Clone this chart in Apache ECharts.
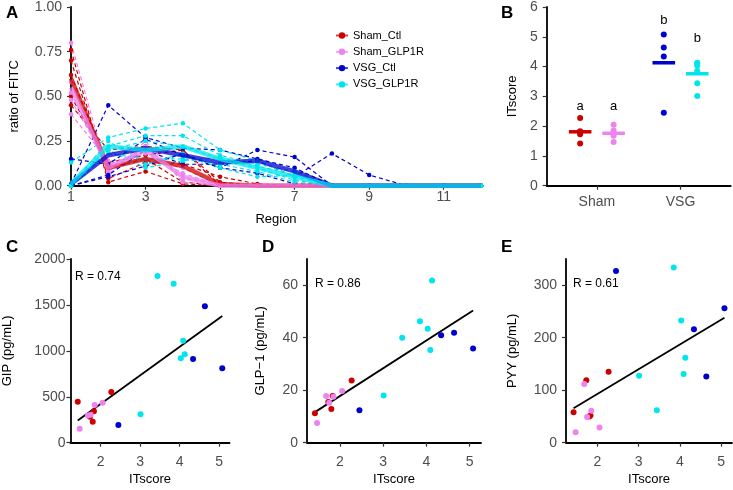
<!DOCTYPE html>
<html><head><meta charset="utf-8">
<script src="https://cdn.jsdelivr.net/npm/echarts@6/dist/echarts.min.js"></script>
<style>html,body{margin:0;padding:0;background:#fff}#c{width:733px;height:490px}</style>
</head><body><div id="c"></div>
<script>
// ---------- DATA ----------
const groups = ['Sham_Ctl', 'Sham_GLP1R', 'VSG_Ctl', 'VSG_GLP1R'];
const groupColors = ['#CD0000', '#EE82EE', '#0000CD', '#00E5EE'];

// Panel A: ratio of FITC per region (1..12), one row per animal
const regions = [1, 2, 3, 4, 5, 6, 7, 8, 9, 10, 11, 12];
const regionTicks = [1, 3, 5, 7, 9, 11];
const fitcShamCtl = [
  [0.76, 0.02, 0.08, 0.01, 0.00, 0, 0, 0, 0, 0, 0, 0],
  [0.70, 0.04, 0.13, 0.12, 0.05, 0.01, 0, 0, 0, 0, 0, 0],
  [0.62, 0.10, 0.15, 0.02, 0.00, 0, 0, 0, 0, 0, 0, 0],
  [0.50, 0.13, 0.17, 0.20, 0.02, 0, 0, 0, 0, 0, 0, 0],
  [0.45, 0.20, 0.22, 0.20, 0.00, 0, 0, 0, 0, 0, 0, 0]
];
const fitcShamGlp = [
  [0.80, 0.06, 0.25, 0.02, 0.00, 0, 0, 0, 0, 0, 0, 0],
  [0.58, 0.08, 0.22, 0.04, 0.01, 0, 0, 0, 0, 0, 0, 0],
  [0.52, 0.10, 0.20, 0.05, 0.00, 0, 0, 0, 0, 0, 0, 0],
  [0.48, 0.12, 0.18, 0.07, 0.00, 0, 0, 0, 0, 0, 0, 0],
  [0.40, 0.14, 0.15, 0.10, 0.00, 0, 0, 0, 0, 0, 0, 0]
];
const fitcVsgCtl = [
  [0.01, 0.45, 0.27, 0.21, 0.20, 0.15, 0.10, 0.00, 0.00, 0, 0, 0],
  [0.00, 0.05, 0.11, 0.18, 0.10, 0.20, 0.16, 0.00, 0.00, 0, 0, 0],
  [0.00, 0.06, 0.20, 0.12, 0.12, 0.14, 0.05, 0.18, 0.06, 0, 0, 0],
  [0.15, 0.12, 0.26, 0.17, 0.10, 0.07, 0.01, 0.00, 0.00, 0, 0, 0]
];
const fitcVsgGlp = [
  [0.13, 0.27, 0.32, 0.35, 0.20, 0.14, 0.05, 0, 0, 0, 0, 0],
  [0.00, 0.22, 0.28, 0.28, 0.17, 0.12, 0.08, 0, 0, 0, 0, 0],
  [0.00, 0.20, 0.25, 0.22, 0.15, 0.10, 0.03, 0, 0, 0, 0, 0],
  [0.00, 0.18, 0.15, 0.15, 0.12, 0.08, 0.02, 0, 0, 0, 0, 0],
  [0.00, 0.25, 0.12, 0.18, 0.10, 0.05, 0.06, 0, 0, 0, 0, 0],
  [0.00, 0.20, 0.10, 0.14, 0.16, 0.11, 0.06, 0, 0, 0, 0, 0]
];
// group mean lines (thick)
const meanShamCtl = [0.60, 0.10, 0.15, 0.11, 0.01, 0, 0, 0, 0, 0, 0, 0];
const meanShamGlp = [0.55, 0.10, 0.20, 0.05, 0.00, 0, 0, 0, 0, 0, 0, 0];
const meanVsgCtl  = [0.01, 0.17, 0.21, 0.17, 0.13, 0.14, 0.08, 0, 0, 0, 0, 0];
const meanVsgGlp  = [0.01, 0.22, 0.20, 0.22, 0.15, 0.10, 0.05, 0, 0, 0, 0, 0];

// Panels B-E: per animal
const itShamCtl = [1.42, 1.73, 1.80, 1.83, 2.27];
const itShamGlp = [1.47, 1.68, 1.75, 1.85, 2.05];
const itVsgCtl  = [2.45, 4.34, 4.64, 5.08];
const itVsgGlp  = [3.01, 3.44, 3.85, 4.03, 4.09, 4.13];

const gipShamCtl = [447, 283, 229, 342, 552];
const gipShamGlp = [153, 295, 305, 411, 436];
const gipVsgCtl  = [193, 912, 1485, 810];
const gipVsgGlp  = [309, 1815, 1730, 919, 1110, 963];

const glp1ShamCtl = [11.2, 15.5, 12.8, 17.8, 23.7];
const glp1ShamGlp = [7.5, 17.8, 15.2, 17.5, 19.7];
const glp1VsgCtl  = [12.4, 40.9, 41.9, 35.9];
const glp1VsgGlp  = [18.0, 40.0, 46.3, 43.4, 35.3, 61.8];

const pyyShamCtl = [58, 119, 50, 52, 135];
const pyyShamGlp = [20, 112, 49, 61, 29];
const pyyVsgCtl  = [327, 216, 126, 256];
const pyyVsgGlp  = [127.5, 61.6, 334, 233, 130.7, 161.7];

const bCategories = ['Sham', 'VSG'];
const bLetters = ['a', 'a', 'b', 'b'];
const bLetterY = [2.65, 2.65, 5.55, 4.95];
const rLabels = ['R = 0.74', 'R = 0.86', 'R = 0.61'];

// ---------- BUILD ----------
const FONT = 'Liberation Sans, Arial, Helvetica, sans-serif';
const fitc = [fitcShamCtl, fitcShamGlp, fitcVsgCtl, fitcVsgGlp];
const means = [meanShamCtl, meanShamGlp, meanVsgCtl, meanVsgGlp];
const its = [itShamCtl, itShamGlp, itVsgCtl, itVsgGlp];
const gips = [gipShamCtl, gipShamGlp, gipVsgCtl, gipVsgGlp];
const glp1s = [glp1ShamCtl, glp1ShamGlp, glp1VsgCtl, glp1VsgGlp];
const pyys = [pyyShamCtl, pyyShamGlp, pyyVsgCtl, pyyVsgGlp];
const dodgeX = [0.8, 1.2, 1.8, 2.2];

function baseAxis(extra, margin) {
  const a = {
    type: 'value',
    axisLine: { show: true, onZero: false, lineStyle: { color: '#000', width: 1.8 } },
    axisTick: { show: true, length: 4, lineStyle: { color: '#333', width: 1.2 } },
    splitLine: { show: false },
    axisLabel: { color: '#4D4D4D', fontSize: 14, fontFamily: FONT, margin: margin },
    nameLocation: 'middle',
    nameTextStyle: { color: '#000', fontSize: 13, fontFamily: FONT }
  };
  return Object.assign(a, extra);
}
function ticks(axis, vals, fmt) {
  axis.axisTick.customValues = vals;
  axis.axisLabel.customValues = vals;
  axis.axisLabel.formatter = fmt || (v => String(v));
  return axis;
}

const grids = [
  { left: 70, top: 6.7, width: 411, height: 179 },
  { left: 546.7, top: 6, width: 184, height: 179.7 },
  { left: 70.5, top: 259, width: 159, height: 183.7 },
  { left: 307, top: 259, width: 174, height: 183.7 },
  { left: 566, top: 259, width: 166, height: 183.7 }
];

const xAxes = [
  ticks(baseAxis({ gridIndex: 0, min: 1, max: 12, name: 'Region', nameGap: 27 }, 4), regionTicks),
  ticks(baseAxis({ gridIndex: 1, min: 0.4, max: 2.6 }, 9), [1, 2], v => bCategories[Math.round(v) - 1]),
  ticks(baseAxis({ gridIndex: 2, min: 1.237, max: 5.263, name: 'ITscore', nameGap: 30 }, 12), [2, 3, 4, 5]),
  ticks(baseAxis({ gridIndex: 3, min: 1.237, max: 5.263, name: 'ITscore', nameGap: 30 }, 12), [2, 3, 4, 5]),
  ticks(baseAxis({ gridIndex: 4, min: 1.237, max: 5.263, name: 'ITscore', nameGap: 30 }, 12), [2, 3, 4, 5])
];
const yAxes = [
  ticks(baseAxis({ gridIndex: 0, min: 0, max: 1, name: 'ratio of FITC', nameGap: 50 }, 9), [0, 0.25, 0.5, 0.75, 1], v => v.toFixed(2)),
  ticks(baseAxis({ gridIndex: 1, min: 0, max: 6, name: 'ITscore', nameGap: 28 }, 9), [0, 1, 2, 3, 4, 5, 6]),
  ticks(baseAxis({ gridIndex: 2, min: 0, max: 2000, name: 'GIP (pg/mL)', nameGap: 56.5 }, 5), [0, 500, 1000, 1500, 2000]),
  ticks(baseAxis({ gridIndex: 3, min: 0, max: 70, name: 'GLP\u22121 (pg/mL)', nameGap: 40 }, 9), [0, 20, 40, 60]),
  ticks(baseAxis({ gridIndex: 4, min: 0, max: 350, name: 'PYY (pg/mL)', nameGap: 47 }, 9), [0, 100, 200, 300])
];

const series = [];
// Panel A mean lines first (legend icons), drawn on top via z
groups.forEach((g, gi) => {
  series.push({
    type: 'line', name: g, xAxisIndex: 0, yAxisIndex: 0, z: 4,
    data: regions.map((r, i) => [r, means[gi][i]]),
    symbol: 'circle', symbolSize: 6, showSymbol: false,
    itemStyle: { color: groupColors[gi] },
    lineStyle: { color: groupColors[gi], width: 4.5, opacity: 0.75 },
    silent: true, animation: false
  });
});
groups.forEach((g, gi) => {
  fitc[gi].forEach(row => {
    series.push({
      type: 'line', name: g, xAxisIndex: 0, yAxisIndex: 0, z: 2,
      data: regions.map((r, i) => [r, row[i]]),
      symbol: 'circle', symbolSize: 4.5,
      itemStyle: { color: groupColors[gi] },
      lineStyle: { color: groupColors[gi], width: 1.2, type: [4, 3] },
      silent: true, animation: false
    });
  });
});
// Panel B
groups.forEach((g, gi) => {
  series.push({
    type: 'scatter', xAxisIndex: 1, yAxisIndex: 1, z: 3,
    data: its[gi].map(v => [dodgeX[gi], v]),
    symbolSize: 6, itemStyle: { color: groupColors[gi], opacity: 1 },
    silent: true, animation: false
  });
  const m = its[gi].reduce((a, b) => a + b, 0) / its[gi].length;
  series.push({
    type: 'custom', xAxisIndex: 1, yAxisIndex: 1, z: 4,
    data: [[dodgeX[gi], m, bLetterY[gi]]],
    renderItem: (params, api) => {
      const x = api.value(0), y = api.value(1), ly = api.value(2);
      const p1 = api.coord([x - 0.135, y]), p2 = api.coord([x + 0.135, y]);
      const pl = api.coord([x, ly]);
      return { type: 'group', children: [
        { type: 'line', shape: { x1: p1[0], y1: p1[1], x2: p2[0], y2: p2[1] },
          style: { stroke: groupColors[gi], lineWidth: 3.5 } },
        { type: 'text', x: pl[0], y: pl[1],
          style: { text: bLetters[gi], fill: '#000', font: '13px ' + FONT, align: 'center', verticalAlign: 'middle' } }
      ] };
    },
    silent: true, animation: false
  });
});
// Panels C-E
[gips, glp1s, pyys].forEach((vals, pi) => {
  const ax = pi + 2;
  const xs = [], ys = [];
  groups.forEach((g, gi) => {
    its[gi].forEach((x, k) => { xs.push(x); ys.push(vals[gi][k]); });
    series.push({
      type: 'scatter', xAxisIndex: ax, yAxisIndex: ax, z: 3,
      data: its[gi].map((x, k) => [x, vals[gi][k]]),
      symbolSize: 6, itemStyle: { color: groupColors[gi], opacity: 1 },
      silent: true, animation: false
    });
  });
  const n = xs.length;
  const mx = xs.reduce((a, b) => a + b, 0) / n, my = ys.reduce((a, b) => a + b, 0) / n;
  let sxy = 0, sxx = 0;
  for (let i = 0; i < n; i++) { sxy += (xs[i] - mx) * (ys[i] - my); sxx += (xs[i] - mx) ** 2; }
  const slope = sxy / sxx, icpt = my - slope * mx;
  const x0 = Math.min(...xs), x1 = Math.max(...xs);
  series.push({
    type: 'line', xAxisIndex: ax, yAxisIndex: ax, z: 2,
    data: [[x0, icpt + slope * x0], [x1, icpt + slope * x1]],
    symbol: 'none', lineStyle: { color: '#000', width: 1.8 },
    silent: true, animation: false
  });
});

const letter = (t, x, y) => ({ type: 'text', left: x, top: y,
  style: { text: t, fill: '#000', font: 'bold 17px ' + FONT } });
const rtext = (t, x, y) => ({ type: 'text', left: x, top: y,
  style: { text: t, fill: '#000', font: '12px ' + FONT } });

const chart = echarts.init(document.getElementById('c'), null, { renderer: 'canvas' });
chart.setOption({
  animation: false,
  backgroundColor: '#fff',
  textStyle: { fontFamily: FONT },
  grid: grids,
  xAxis: xAxes,
  yAxis: yAxes,
  legend: {
    data: groups, orient: 'vertical', left: 335, top: 30, padding: 0,
    itemWidth: 12, itemHeight: 8, itemGap: 5.3, itemStyle: { opacity: 1 },
    textStyle: { fontSize: 11, color: '#000', fontFamily: FONT },
    selectedMode: false
  },
  graphic: [
    letter('A', 6, 5), letter('B', 501, 5), letter('C', 6, 239), letter('D', 262, 239), letter('E', 501, 239),
    rtext(rLabels[0], 75, 271), rtext(rLabels[1], 315, 278), rtext(rLabels[2], 573, 278)
  ],
  series: series
});
</script></body></html>
